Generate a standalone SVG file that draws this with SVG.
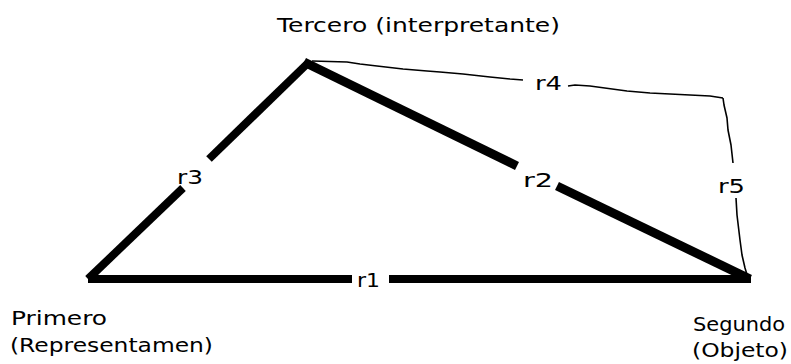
<svg xmlns="http://www.w3.org/2000/svg" width="791" height="364" viewBox="0 0 791 364">
<style>
.lbl{font-family:"DejaVu Sans","Liberation Sans",sans-serif;font-size:20px;fill:#000}
.thick{stroke:#000;fill:none;stroke-linecap:butt}
.thin{stroke:#000;fill:none;stroke-width:1.6;stroke-linejoin:round}
</style>
<rect width="791" height="364" fill="#fff"/>
<g id="connectors">
<g id="r3">
<line class="thick" stroke-width="8" x1="88" y1="279" x2="183" y2="188"/>
<line class="thick" stroke-width="8" x1="209" y1="159" x2="308" y2="63"/>
<text class="lbl" x="177" y="184" textLength="26" lengthAdjust="spacingAndGlyphs">r3</text>
</g>
<g id="r2">
<line class="thick" stroke-width="9" x1="304" y1="62" x2="517" y2="166"/>
<line class="thick" stroke-width="9" x1="557" y1="186" x2="750" y2="279"/>
<text class="lbl" x="523" y="187" textLength="30" lengthAdjust="spacingAndGlyphs">r2</text>
</g>
<g id="r1">
<line class="thick" stroke-width="8" x1="88" y1="279" x2="352" y2="279"/>
<line class="thick" stroke-width="8" x1="389" y1="279" x2="751" y2="279"/>
<text class="lbl" x="357" y="287" textLength="23" lengthAdjust="spacingAndGlyphs">r1</text>
</g>
<g id="r4">
<polyline class="thin" points="312,61 347,62 360,64 377,66 403,69 427,71 440,72 463,74 490,77 510,79 523,80"/>
<polyline class="thin" points="568,86 575,85 590,86 627,91 650,93 670,94 690,95 710,96 723,98"/>
<text class="lbl" x="535" y="90" textLength="27" lengthAdjust="spacingAndGlyphs">r4</text>
</g>
<g id="r5">
<polyline class="thin" points="723,98 724,105 727,118 728,130 731,145 733,163"/>
<polyline class="thin" points="736,198 737,215 740,240 742,255 745,268 748,278"/>
<text class="lbl" x="718" y="193" textLength="27" lengthAdjust="spacingAndGlyphs">r5</text>
</g>
</g>
<g id="tercero">
<text class="lbl" x="277" y="32" textLength="283" lengthAdjust="spacingAndGlyphs">Tercero (interpretante)</text>
</g>
<g id="primero">
<text class="lbl" x="11" y="325" textLength="96" lengthAdjust="spacingAndGlyphs">Primero</text>
<text class="lbl" x="10" y="352" textLength="203" lengthAdjust="spacingAndGlyphs">(Representamen)</text>
</g>
<g id="segundo">
<text class="lbl" x="693" y="331" textLength="92" lengthAdjust="spacingAndGlyphs">Segundo</text>
<text class="lbl" x="692" y="357" textLength="96" lengthAdjust="spacingAndGlyphs">(Objeto)</text>
</g>
</svg>
